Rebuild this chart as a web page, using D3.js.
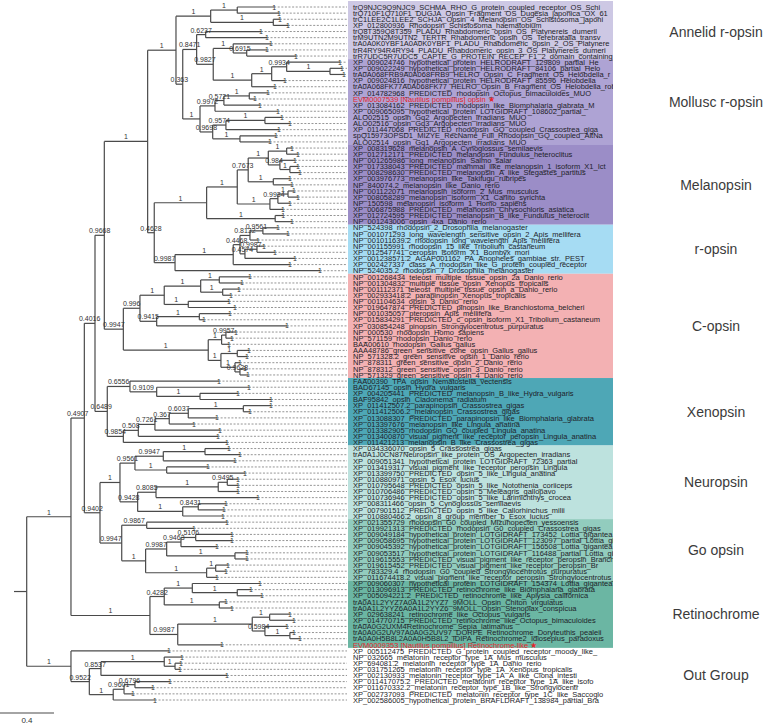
<!DOCTYPE html>
<html><head><meta charset="utf-8">
<script src="https://cdn.jsdelivr.net/npm/d3@7/dist/d3.min.js"></script>
<style>body{margin:0;background:#fff}svg{display:block}</style>
</head><body>
<svg id="chart" width="766" height="724"></svg>
<script>
// ---------- DATA ----------
const tipLabels = [
"trQ9NJC9Q9NJC9_SCHMA_RHO_G_protein_coupled_receptor_OS_Schi",
"trQ710F1Q710F1_DUGJA_Opsin_Fragment_OS_Dugesia_japonica_OX_61",
"trC1LEE2C1LEE2_SCHJA_Opsin_4_Melanopsin_OS_Schistosoma_japoni",
"XP_012800936_Rhodopsin_Schistosoma_haematobium",
"trQ8T359Q8T359_PLADU_Rhabdomeric_opsin_OS_Platynereis_dumeril",
"trM9UTN2M9UTN2_TERTR_Rhabdomeric_opsin_OS_Terebratalia_transv",
"trA0A0K0YBF1A0A0K0YBF1_PLADU_Rhabdomeric_opsin_2_OS_Platynere",
"trR4RY94R4RY94_PLADU_Rhabdomeric_opsin_3_OS_Platynereis_dumeri",
"trR7UDC5R7UDC5_CAPTE_G_PROTEIN_RECEP_F1_2_domain_containing_p",
"XP_009024746_hypothetical_protein_HELRODRAFT_129809_partial_He",
"XP_009022249_hypothetical_protein_HELRODRAFT_84106_partial_Helo",
"trA0A068FRB9A0A068FRB9_HELRO_Opsin_C_Fragment_OS_Helobdella_r",
"XP_009024816_hypothetical_protein_HELRODRAFT_85596_Helobdella",
"trA0A068FK77A0A068FK77_HELRO_Opsin_B_Fragment_OS_Helobdella_rob",
"XP_014782968_PREDICTED_rhodopsin_Octopus_bimaculoides_MUO",
"EVM0007539 [Nautilus pompilius] opsin \u2605",
"XP_013084162_PREDICTED_rhodopsin_like_Biomphalaria_glabrata_M",
"XP_009065095_hypothetical_protein_LOTGIDRAFT_108602_partial_",
"ALO02515_opsin_Gq2_Argopecten_irradians_MUO",
"ALO02516_opsin_Gq3_Argopecten_irradians_MUO",
"XP_011447068_PREDICTED_rhodopsin_GQ_coupled_Crassostrea_giga",
"spQ15973OPSD1_MIZYE_RecName_Full_Rhodopsin_GQ_coupled_AltNa",
"ALO02514_opsin_Gq1_Argopecten_irradians_MUO",
"XP_008319628_melanopsin_A_Cynoglossus_semilaevis",
"XP_012712171_PREDICTED_melanopsin_Fundulus_heteroclitus",
"NP_001265986_long_melanopsin_Salmo_salar",
"XP_017338043_PREDICTED_mammal_like_melanopsin_1_isoform_X1_Ict",
"XP_008298630_PREDICTED_melanopsin_A_like_Stegastes_partitus",
"XP_003976773_melanopsin_like_Takifugu_rubripes",
"NP_840074.2_melanopsin_like_Danio_rerio",
"NP_001122071_melanopsin_isoform_2_Mus_musculus",
"XP_008058289_melanopsin_isoform_X1_Carlito_syrichta",
"NP_150598_melanopsin_isoform_1_Homo_sapiens",
"XP_006875988_PREDICTED_melanopsin_Chrysochloris_asiatica",
"XP_012724595_PREDICTED_melanopsin_B_like_Fundulus_heteroclit",
"NP_001243006_opsin_4xa_Danio_rerio",
"NP_524398_rhodopsin_2_Drosophila_melanogaster",
"NP_001071293_long_wavelength_sensitive_opsin_2_Apis_mellifera",
"NP_001011639.2_rhodopsin_long_wavelength_Apis_mellifera",
"NP_001155991_rhodopsin_15_like_Tribolium_castaneum",
"XP_012547741_ceropsin_isoform_X1_Bombyx_mori",
"XP_001238571.2_AGAP001162_PA_Anopheles_gambiae_str._PEST",
"XP_002427337_class_A_rhodopsin_like_G_protein_coupled_receptor",
"NP_524035.2_rhodopsin_7_Drosophila_melanogaster",
"NP_001268434_teleost_multiple_tissue_opsin_2a_Danio_rerio",
"NP_001304832_multiple_tissue_opsin_Xenopus_tropicalis",
"NP_001112371_teleost_multiple_tissue_opsin_a_Danio_rerio",
"XP_002933418.2_parapinopsin_Xenopus_tropicalis",
"NP_001104634_opsin_3_Danio_rerio",
"XP_019647874_PREDICTED_pinopsin_like_Branchiostoma_belcheri",
"NP_001035057_pteropsin_Apis_mellifera",
"XP_015834291_PREDICTED_c_opsin_isoform_X1_Tribolium_castaneum",
"XP_030854248_pinopsin_Strongylocentrotus_purpuratus",
"NP_000530_rhodopsin_Homo_sapiens",
"NP_571159_rhodopsin_Danio_rerio",
"BAA00610_rhodopsin_Gallus_gallus",
"AAA48786_green_sensitive_cone_opsin_Gallus_gallus",
"NP_571328.2_green_sensitive_opsin_1_Danio_rerio",
"NP_878311_green_sensitive_opsin_2_Danio_rerio",
"NP_878312_green_sensitive_opsin_3_Danio_rerio",
"NP_571329_green_sensitive_opsin_4_Danio_rerio",
"FAA00390_TPA_opsin_Nematostella_vectensis",
"BAD67145_opsin_Hydra_vulgaris",
"XP_004205441_PREDICTED_melanopsin_B_like_Hydra_vulgaris",
"BAF95842_opsin_Cladonema_radiatum",
"XP_011412507.2_parapinopsin_Crassostrea_gigas",
"XP_011412506.2_melanopsin_Crassostrea_gigas",
"XP_013088307_PREDICTED_parapinopsin_like_Biomphalaria_glabrata",
"XP_013397676_melanopsin_like_Lingula_anatina",
"XP_013382905_rhodopsin_GQ_coupled_Lingula_anatina",
"XP_013400870_visual_pigment_like_receptor_peropsin_Lingula_anatina",
"XP_011421213_melanopsin_B_like_Crassostrea_gigas",
"XP_034336070_opsin_5_Crassostrea_gigas",
"trA0A1J0CN87Neuropsin_like_protein_OS_Argopecten_irradians",
"XP_009051341_hypothetical_protein_LOTGIDRAFT_72363_partial",
"XP_013419317_visual_pigment_like_receptor_peropsin_Lingula",
"XP_013399750_PREDICTED_opsin_5_like_Lingula_anatina",
"XP_010880971_opsin_5_Esox_lucius",
"XP_010795648_PREDICTED_opsin_5_like_Notothenia_coriiceps",
"XP_010706486_PREDICTED_opsin_5_Meleagris_gallopavo",
"XP_010736946_PREDICTED_opsin_5_like_Larimichthys_crocea",
"XP_008311466_opsin_5_Cynoglossus_semilaevis",
"XP_007901512_PREDICTED_opsin_5_like_Callorhinchus_milii",
"XP_010880466.2_opsin_8_group_member_b_Esox_lucius",
"XP_021355729_rhodopsin_G0_coupled_Mizuhopecten_yessoensis",
"XP_019921313_PREDICTED_rhodopsin_G0_coupled_Crassostrea_gigas",
"XP_009049184_hypothetical_protein_LOTGIDRAFT_173452_Lottia_gigantea",
"XP_009058695_hypothetical_protein_LOTGIDRAFT_123097_partial_Lottia_giga",
"XP_009045392_hypothetical_protein_LOTGIDRAFT_156508_Lottia_gigantea",
"XP_009053517_hypothetical_protein_LOTGIDRAFT_116488_partial_Lottia_gigan",
"XP_019615553_PREDICTED_visual_pigment_like_receptor_peropsin_Branchiostoma",
"XP_019615452_PREDICTED_visual_pigment_like_receptor_peropsin_Br",
"XP_783329.4_rhodopsin_G0_coupled_Strongylocentrotus_purpuratus",
"XP_011674418.2_visual_pigment_like_receptor_peropsin_Strongylocentrotus_pu",
"XP_009060307_hypothetical_protein_LOTGIDRAFT_154374_Lottia_gigantea",
"XP_013096913_PREDICTED_retinochrome_like_Biomphalaria_glabrata",
"XP_005094221.2_PREDICTED_retinochrome_like_Aplysia_californica",
"trA0A1L2YYZ7A0A1L2YYZ7_9MOLL_Opsin_Chiton_virgulatus",
"trA0A1L2YYZ6A0A1L2YYZ6_9MOLL_Opsin_Stenoplax_conspicua",
"XP_029638241_retinochrome_like_Octopus_vulgaris",
"XP_014770715_PREDICTED_retinochrome_like_Octopus_bimaculoides",
"trA0A0G2UXM4Retinochrome_Sepia_latimanus",
"trA0A0G2UV97A0A0G2UV97_DORPE_Retinochrome_Doryteuthis_pealeii",
"trA0A0H5B8L2A0A0H5B8L2_IDIPA_Retinochrome2_Idiosepius_paradoxus",
"EVM0009353 [Nautilus pompilius] Retinochrome-like \u2605",
"XP_005112475_PREDICTED_G_protein_coupled_receptor_moody_like_",
"NP_032665_melatonin_receptor_type_1A_Mus_musculus",
"XP_694081.2_melatonin_receptor_type_1A_Danio_rerio",
"XP_031751265_melatonin_receptor_type_1A_Xenopus_tropicalis",
"XP_002130933_melatonin_receptor_type_1A_A_like_Ciona_intesti",
"XP_011417075.2_PREDICTED_melatonin_receptor_type_1A_like_isofo",
"XP_011670332.2_melatonin_receptor_type_1B_like_Strongylocentr",
"XP_002737093_PREDICTED_melatonin_receptor_type_1C_like_Saccoglo",
"XP_002586005_hypothetical_protein_BRAFLDRAFT_138984_partial_Bra"
];
const highlightTips = [15, 104];

const groupNames = ["Annelid r-opsin","Mollusc r-opsin","Melanopsin","r-opsin","C-opsin","Xenopsin","Neuropsin","Go opsin","Retinochrome","Out Group"];
const groupFirstTip = [0, 9, 23, 36, 44, 61, 72, 84, 94, 105];
const groupLastTip  = [8, 22, 35, 43, 60, 71, 83, 93, 104, 113];

// Tree: "tN" = tip N; number after ")" = support; number after ":" = distance from root (subst./site)
const cladeAnnelidMollusc =
 "(((t0:1.833,t1:1.869)1:1.560,(t2:1.876,t3:1.936)1:1.827)1:1.363," +
 "(((t4:1.736,t5:1.780)0.6237:1.326,((t6:1.810,(t7:1.780,t8:1.995)0.6915:1.630)1:1.530," +
 "(((t9:2.321,(t10:2.336,t11:2.350)1:2.247)0.9934:1.926,t12:1.913)1:1.815,t13:1.839)1:1.667)0.9827:1.382)0.8471:1.259," +
 "((((t14:1.787,t15:1.691)1:1.649,t16:1.728)0.5721:1.461,t17:1.861)0.9972:1.395," +
 "(((t18:1.891,t19:1.950)1:1.765,t20:1.869)0.9574:1.476,(t21:1.847,t22:1.802)1:1.580)0.9698:1.378)1:1.284)0.363:1.156)1:1.106";
const cladeMelanopsin =
 "(((((t23:1.965,t24:2.010)1:1.926,(t25:1.987,(t26:2.010,t27:2.024)1:1.950)0.984:1.876)1:1.790,(t28:1.950,t29:1.965)1:1.827)0.7673:1.641," +
 "(((t30:1.980,t31:2.010)1:1.936,t32:1.950)0.9934:1.861,t33:1.899)1:1.802)1:1.560,(t34:1.900,t35:1.965)1:1.841)1:1.333";
const cladeROpsin =
 "((((t36:1.861,t37:1.936)0.9561:1.750,t38:1.713)0.8132:1.654,((t39:1.758,t40:1.839)0.9987:1.706,t41:1.987)0.4574:1.617)0.4468:1.580,t42:1.950)1:1.530";
const cladeCOpsin =
 "((((t44:1.654,t45:1.595)1:1.427,(t46:1.573,t47:1.513)1:1.452)1:1.289,(t48:1.499,t49:1.543)1:1.197)1:1.019," +
 "((t50:1.506,t51:1.313)1:1.279,t52:1.928)0.9415:0.963)0.996:0.839," +
 "(((t53:1.550,t54:1.521)0.9957:1.476,t55:1.499)1:1.444,((t56:1.647,t57:1.632)1:1.560,(t58:1.580,(t59:1.617,t60:1.639)0.9628:1.580)1:1.543)1:1.439)1:1.345";
const cladeXenopsin =
 "(t61:1.424,(t62:1.647,(t63:1.565,t64:1.810)1:1.284)0.9109:0.963)0.6556:0.765," +
 "((((((t65:1.810,t66:1.654)1:1.605,t67:1.410)0.6037:1.197,t68:1.239)0.367:1.056,t69:1.432)0.7261:0.950,t70:1.417)0.508:0.827,t71:1.484)0.9854:0.716";
const cladeNeuropsin =
 "(((t72:1.499,t73:1.580)1:1.321,t74:1.543)0.9947:1.012,(t75:1.343,t76:1.617)1:1.037)0.9561:0.802," +
 "((((t77:1.565,t78:1.565)0.9495:1.486,t79:1.565)1:1.419,t80:1.713)0.8085:0.958,((t81:1.476,t82:1.461)0.8431:1.271,t83:1.454)1:1.156)0.9428:0.822";
const cladeGoOpsin =
 "(t84:1.484,t85:1.239)0.9867:0.889," +
 "((((t86:1.521,t87:1.521)0.5106:1.252,t88:1.410)0.9463:1.143,(t89:1.632,t90:1.632)1:1.543)0.9987:1.037,((t91:1.491,t92:1.476)1:1.400,t93:1.410)1:1.333)1:0.881";
const cladeRetinochrome =
 "((t94:1.728,(t95:1.662,t96:1.743)1:1.560)1:1.227,(t97:1.476,t98:1.521)1:1.427)0.4282:1.019," +
 "(((t99:1.950,t100:1.980)1:1.800,(t101:1.928,(t102:1.980,t103:2.024)1:1.950)0.5984:1.765)1:1.671,t104:1.447)0.9987:1.119";
const cladeOutGroup =
 "(t105:1.054,(((t106:1.150,(t107:1.143,t108:1.136)1:1.099)1:1.019,t109:1.484)0.8537:0.550," +
 "(((t110:1.061,t111:0.936)0.6796:0.802,t112:0.787)0.9601:0.721,t113:0.950)1:0.641)0.9522:0.464)1:0.328";

const treeNewick =
 "((((((" + cladeAnnelidMollusc +
 ",(" + cladeMelanopsin + ",(" + cladeROpsin + ",t43:2.173)0.9987:1.099)0.4628:0.945)1:0.896" +
 ",(" + cladeCOpsin + ")0.9947:0.716)0.9668:0.575" +
 ",(" + cladeXenopsin + ")0.6489:0.597)0.4016:0.506" +
 ",((" + cladeNeuropsin + ")1:0.691,(" + cladeGoOpsin + ")0.9947:0.704)0.9402:0.543)0.4907:0.427" +
 ",(" + cladeRetinochrome + ")1:0.913)1:0.328," + cladeOutGroup + "):0;";

const rootEdge = 0.094;
const scaleBarValue = 0.4;
const axisMaxDepth = 2.373;

// ---------- STYLE ----------
const W = 766, H = 724;
const bandFills = ["#cdc8e4","#aea3d4","#9b8dc7","#a6dcf3","#f3b1b3","#4ea7b6","#bde2de","#92ccbe","#6bb6a3", null];

// ---------- PARSE ----------
function parseNewick(s){
  let i = 0;
  function node(){
    const n = {};
    if (s[i] === "("){
      n.children = [];
      i++;
      n.children.push(node());
      while (s[i] === ","){ i++; n.children.push(node()); }
      i++;
    }
    let lab = "";
    while (i < s.length && !":,);".includes(s[i])) lab += s[i++];
    n.name = lab;
    if (s[i] === ":"){
      i++; let num = "";
      while (i < s.length && !",);".includes(s[i])) num += s[i++];
      n.depth = +num;
    }
    return n;
  }
  return node();
}

const root = d3.hierarchy(parseNewick(treeNewick));

const x = d3.scaleLinear().domain([0, axisMaxDepth]).range([26.7, 347]);
const y = d3.scaleLinear().domain([0, tipLabels.length - 1]).range([7, 700]);

root.eachAfter(n => {
  n.px = x(n.data.depth);
  if (!n.children){ n.tip = +n.data.name.slice(1); n.py = y(n.tip); }
  else n.py = (n.children[0].py + n.children[n.children.length - 1].py) / 2;
});

const svg = d3.select("#chart");
svg.append("rect").attr("width", W).attr("height", H).attr("fill", "#fff");

const font = "Liberation Sans, Arial, sans-serif";

// bands
const bandRight = 613, bandLeft = 348;
groupNames.forEach((g, k) => {
  if (!bandFills[k]) return;
  const top = k === 0 ? 1 : y(groupFirstTip[k] - 0.5);
  svg.append("rect")
    .attr("x", bandLeft).attr("width", bandRight - bandLeft)
    .attr("y", top).attr("height", y(groupLastTip[k] + 0.5) - top)
    .attr("fill", bandFills[k]);
});

// group names
groupNames.forEach((g, k) => {
  svg.append("text")
    .attr("x", 716).attr("y", (y(groupFirstTip[k]) + y(groupLastTip[k])) / 2 + 5)
    .attr("text-anchor", "middle")
    .attr("font-family", font)
    .attr("font-size", 14).attr("fill", "#3b3b3b")
    .text(g);
});

const treeG = svg.append("g");
const lineCol = "#4a4a4a";

// root stub
treeG.append("line").attr("x1", x(-rootEdge)).attr("x2", x(0))
  .attr("y1", root.py).attr("y2", root.py).attr("stroke", lineCol).attr("stroke-width", 1.2);

root.descendants().forEach(n => {
  if (n.parent){
    treeG.append("line").attr("x1", n.parent.px).attr("x2", n.px)
      .attr("y1", n.py).attr("y2", n.py)
      .attr("stroke", lineCol).attr("stroke-width", 1.2);
  }
  if (n.children){
    treeG.append("line").attr("x1", n.px).attr("x2", n.px)
      .attr("y1", n.children[0].py).attr("y2", n.children[n.children.length - 1].py)
      .attr("stroke", lineCol).attr("stroke-width", 1.2);
  }
});

// dashed leaf extensions
root.leaves().forEach(n => {
  treeG.append("line").attr("x1", n.px).attr("x2", x(axisMaxDepth))
    .attr("y1", n.py).attr("y2", n.py)
    .attr("stroke", "#7a7a7a").attr("stroke-width", 0.8).attr("stroke-dasharray", "2,1.6");
});

// support labels on internal branches (midpoint)
root.descendants().forEach(n => {
  if (!n.parent || !n.children) return;
  treeG.append("text")
    .attr("x", (n.parent.px + n.px) / 2).attr("y", n.py - 2)
    .attr("text-anchor", "middle")
    .attr("font-family", font)
    .attr("font-size", 7).attr("fill", "#333")
    .text(n.data.name);
});
// tip support marks
root.leaves().forEach(n => {
  treeG.append("text")
    .attr("x", n.px).attr("y", n.py + 2.5)
    .attr("text-anchor", "middle")
    .attr("font-family", font)
    .attr("font-size", 7).attr("fill", "#333")
    .text("1");
});

// tip labels
svg.append("clipPath").attr("id", "lblclip").append("rect")
  .attr("x", bandLeft).attr("y", 0).attr("width", bandRight - bandLeft).attr("height", H);
const lbl = svg.append("g").attr("clip-path", "url(#lblclip)");
root.leaves().forEach(n => {
  const hl = highlightTips.includes(n.tip);
  lbl.append("text")
    .attr("x", 353).attr("y", n.py + 2.7)
    .attr("font-family", font)
    .attr("font-size", 7.5)
    .attr("fill", hl ? "#e5262e" : "#1e1e2a")
    .text(tipLabels[n.tip]);
});

// scale bar
const sb = svg.append("g");
sb.append("line").attr("x1", 0).attr("x2", x(scaleBarValue) - x(0))
  .attr("y1", 713).attr("y2", 713).attr("stroke", lineCol).attr("stroke-width", 1.2);
sb.append("text").attr("x", (x(scaleBarValue) - x(0)) / 2).attr("y", 723)
  .attr("text-anchor", "middle")
  .attr("font-family", font)
  .attr("font-size", 8).attr("fill", "#333").text(scaleBarValue);
</script>
</body></html>
